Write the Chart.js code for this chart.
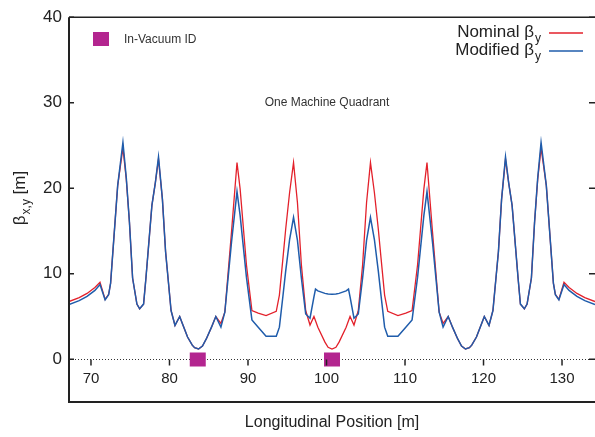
<!DOCTYPE html>
<html>
<head>
<meta charset="utf-8">
<script src="https://cdn.jsdelivr.net/npm/chart.js@4"></script>
<style>
  body { margin: 0; background: #fff; }
  #beta { display: block; }
</style>
</head>
<body>
<canvas id="beta" width="595" height="437"></canvas>
<script>
// longitudinal position along the quadrant [m]
const posM = [
    67.2, 68.5, 69.5, 70.5, 71.15, 71.8, 72.25, 72.5, 73.4, 74.07,
    74.5, 74.9, 75.3, 75.85, 76.2, 76.7, 77.0, 77.76, 78.2, 78.6,
    79.1, 79.5, 80.2, 80.7, 81.3, 81.65, 82.3, 82.9, 83.2, 83.7, 84.2, 84.7,
    85.35, 85.9, 86.55, 87.05, 87.9, 88.6, 89.0, 89.8, 90.5, 91.3,
    92.3, 93.6, 94.0, 94.45, 94.8, 95.3, 95.8, 96.3, 96.8, 97.35,
    97.9, 98.4, 98.6, 98.9, 99.8, 100.2, 100.7, 101.2,
    101.6, 102.5, 102.8, 103.0, 103.5, 104.05, 104.6, 105.1, 105.6, 106.1,
    106.6, 106.95, 107.4, 107.8, 109.1, 110.1, 110.9, 111.6, 112.4, 112.8,
    113.5, 114.35, 114.85, 115.5, 116.05, 116.7, 117.2, 117.7, 118.2, 118.5, 119.1, 119.75,
    120.1, 120.7, 121.2, 121.9, 122.3, 122.8, 123.2, 123.64, 124.4, 124.7,
    125.2, 125.55, 126.1, 126.5, 126.9, 127.33, 128.0, 128.9, 129.15, 129.6,
    130.25, 130.9, 131.9, 132.9, 134.2
];

// nominal vertical beta [m]
const betaNominal = [
    6.75, 7.2, 7.7, 8.4, 9.0, 7.0, 7.6, 8.9, 20.3, 24.7,
    21.0, 16.0, 9.5, 6.45, 5.9, 6.45, 9.5, 18.0, 20.65, 23.4,
    18.7, 12.6, 5.7, 3.95, 5.0, 4.15, 2.6, 1.65, 1.35, 1.2, 1.55, 2.4,
    3.75, 5.0, 4.2, 5.5, 14.9, 23.0, 19.9, 11.05, 5.7, 5.4,
    5.1, 5.6, 7.5, 11.8, 15.2, 19.5, 23.0, 18.3, 11.05, 5.7,
    4.0, 5.0, 4.5, 3.75, 2.0, 1.4, 1.2, 1.4,
    2.0, 3.75, 4.5, 5.0, 4.0, 5.7, 11.05, 18.3, 23.0, 19.5,
    15.2, 11.8, 7.5, 5.6, 5.1, 5.4, 5.7, 11.05, 19.9, 23.0,
    14.9, 5.5, 4.2, 5.0, 3.75, 2.4, 1.55, 1.2, 1.35, 1.65, 2.6, 4.15,
    5.0, 3.95, 5.7, 12.6, 18.7, 23.4, 20.65, 18.0, 9.5, 6.45,
    5.9, 6.45, 9.5, 16.0, 21.0, 24.7, 20.3, 8.9, 7.6, 7.0,
    9.0, 8.4, 7.7, 7.2, 6.75
];

// modified vertical beta [m]
const betaModified = [
    6.4, 6.85, 7.35, 8.05, 8.75, 6.95, 7.55, 8.9, 20.3, 25.35,
    21.2, 16.0, 9.5, 6.45, 5.9, 6.45, 9.5, 18.0, 20.65, 23.65,
    18.7, 12.6, 5.7, 3.95, 5.0, 4.15, 2.6, 1.65, 1.35, 1.2, 1.55, 2.4,
    3.75, 5.0, 3.75, 5.5, 13.7, 19.6, 16.8, 9.6, 4.6, 3.75,
    2.7, 2.7, 3.75, 7.4, 10.3, 14.0, 16.6, 13.9, 9.5, 5.3,
    4.8, 7.3, 8.2, 8.0, 7.7, 7.62, 7.6, 7.62,
    7.7, 8.0, 8.2, 7.3, 4.8, 5.3, 9.5, 13.9, 16.6, 14.0,
    10.3, 7.4, 3.75, 2.7, 2.7, 3.75, 4.6, 9.6, 16.8, 19.6,
    13.7, 5.5, 3.75, 5.0, 3.75, 2.4, 1.55, 1.2, 1.35, 1.65, 2.6, 4.15,
    5.0, 3.95, 5.7, 12.6, 18.7, 23.65, 20.65, 18.0, 9.5, 6.45,
    5.9, 6.45, 9.5, 16.0, 21.2, 25.35, 20.3, 8.9, 7.55, 6.95,
    8.75, 8.05, 7.35, 6.85, 6.4
];

const xTicks = [70, 80, 90, 100, 110, 120, 130];
const yTicks = [0, 10, 20, 30, 40];
// in-vacuum insertion device locations [m]
const idPositions = [83.6, 100.7];

const RED = '#e3212b';
const BLUE = '#1f5cab';
const PURPLE = '#b3258f';
const INK = '#222';
const FONT = '"Liberation Sans", Arial, Helvetica, sans-serif';

const toPoints = (ys) => posM.map((x, i) => ({ x: x, y: ys[i] }));

// text with a subscript, e.g. beta_y
function subText(ctx, main, sub, tail, x, y, size, align) {
    const subSize = Math.round(size * 0.72);
    ctx.font = size + 'px ' + FONT;
    const wMain = ctx.measureText(main).width;
    const wTail = tail ? ctx.measureText(tail).width : 0;
    ctx.font = subSize + 'px ' + FONT;
    const wSub = ctx.measureText(sub).width;
    const total = wMain + wSub + wTail + 1;
    let x0 = x;
    if (align === 'right') x0 = x - total;
    if (align === 'center') x0 = x - total / 2;
    ctx.textAlign = 'left';
    ctx.textBaseline = 'alphabetic';
    ctx.font = size + 'px ' + FONT;
    ctx.fillText(main, x0, y);
    ctx.font = subSize + 'px ' + FONT;
    ctx.fillText(sub, x0 + wMain + 1, y + size * 0.3);
    if (tail) {
        ctx.font = size + 'px ' + FONT;
        ctx.fillText(tail, x0 + wMain + wSub + 1, y);
    }
}

const decor = {
    id: 'decor',
    afterDatasetsDraw(chart) {
        const { ctx, chartArea: a, scales: { x, y } } = chart;
        const y0 = Math.round(y.getPixelForValue(0)) + 0.5;
        ctx.save();

        // dotted zero line
        ctx.strokeStyle = '#333';
        ctx.lineWidth = 1;
        ctx.setLineDash([1, 2]);
        ctx.beginPath();
        ctx.moveTo(a.left, y0);
        ctx.lineTo(a.right, y0);
        ctx.stroke();
        ctx.setLineDash([]);

        // ID markers sitting on the axis
        ctx.fillStyle = PURPLE;
        idPositions.forEach(p => {
            const px = x.getPixelForValue(p);
            ctx.fillRect(px - 8, y0 - 7, 16, 14);
        });

        // x ticks hang below the zero line, labels underneath
        ctx.strokeStyle = INK;
        ctx.fillStyle = INK;
        ctx.lineWidth = 1.5;
        ctx.font = '15px ' + FONT;
        ctx.textAlign = 'center';
        ctx.textBaseline = 'alphabetic';
        xTicks.forEach(v => {
            const px = x.getPixelForValue(v);
            ctx.beginPath();
            ctx.moveTo(px, y0);
            ctx.lineTo(px, y0 + 6);
            ctx.stroke();
            ctx.fillText(String(v), px, 383);
        });

        // y ticks, inward on both sides
        yTicks.forEach(v => {
            const py = y.getPixelForValue(v);
            ctx.beginPath();
            ctx.moveTo(a.left, py);
            ctx.lineTo(a.left + 5, py);
            ctx.moveTo(a.right - 6, py);
            ctx.lineTo(a.right, py);
            ctx.stroke();
        });

        // frame
        ctx.lineWidth = 2;
        ctx.beginPath();
        ctx.moveTo(a.left, a.top);
        ctx.lineTo(a.left, a.bottom);
        ctx.lineTo(a.right, a.bottom);
        ctx.stroke();
        ctx.lineWidth = 1.5;
        ctx.beginPath();
        ctx.moveTo(a.left, a.top);
        ctx.lineTo(a.right, a.top);
        ctx.stroke();
        ctx.restore();
    },
    afterDraw(chart) {
        const { ctx, chartArea: a } = chart;
        ctx.save();
        ctx.fillStyle = INK;

        // legend
        subText(ctx, 'Nominal \u03b2', 'y', '', 541, 37, 17, 'right');
        subText(ctx, 'Modified \u03b2', 'y', '', 541, 55, 17, 'right');
        ctx.lineWidth = 1.5;
        ctx.strokeStyle = RED;
        ctx.beginPath(); ctx.moveTo(549, 33); ctx.lineTo(583, 33); ctx.stroke();
        ctx.strokeStyle = BLUE;
        ctx.beginPath(); ctx.moveTo(549, 51); ctx.lineTo(583, 51); ctx.stroke();

        // ID key
        ctx.fillStyle = PURPLE;
        ctx.fillRect(93, 32, 16, 14);
        ctx.fillStyle = '#333';
        ctx.font = '12px ' + FONT;
        ctx.textAlign = 'left';
        ctx.textBaseline = 'alphabetic';
        ctx.fillText('In-Vacuum ID', 124, 43);

        ctx.textAlign = 'center';
        ctx.fillText('One Machine Quadrant', 327, 106);

        // axis titles
        ctx.fillStyle = INK;
        ctx.font = '16px ' + FONT;
        ctx.textAlign = 'center';
        ctx.fillText('Longitudinal Position [m]', (a.left + a.right) / 2, 427);

        ctx.translate(25, 198);
        ctx.rotate(-Math.PI / 2);
        subText(ctx, '\u03b2', 'x,y', ' [m]', 0, 0, 17, 'center');
        ctx.restore();
    }
};

new Chart(document.getElementById('beta'), {
    type: 'line',
    data: {
        datasets: [
            {
                label: 'Nominal βy',
                data: toPoints(betaNominal),
                borderColor: RED,
                borderWidth: 1.3,
                pointRadius: 0,
                tension: 0,
                order: 2
            },
            {
                label: 'Modified βy',
                data: toPoints(betaModified),
                borderColor: BLUE,
                borderWidth: 1.5,
                pointRadius: 0,
                tension: 0,
                order: 1
            }
        ]
    },
    options: {
        responsive: false,
        animation: false,
        devicePixelRatio: 1,
        layout: { padding: { top: 12, bottom: 35, left: 0, right: 0 } },
        plugins: {
            legend: { display: false },
            tooltip: { enabled: false },
            title: { display: false }
        },
        scales: {
            x: {
                type: 'linear',
                display: false,
                min: 67.2,
                max: 134.2
            },
            y: {
                type: 'linear',
                min: -5,
                max: 40,
                afterBuildTicks: (scale) => {
                    scale.ticks = yTicks.map(v => ({ value: v }));
                },
                afterFit: (scale) => { scale.width = 69; },
                grid: { display: false, drawTicks: false },
                border: { display: false },
                ticks: {
                    color: INK,
                    padding: 7,
                    font: { family: FONT, size: 17 }
                }
            }
        }
    },
    plugins: [decor]
});
</script>
</body>
</html>
